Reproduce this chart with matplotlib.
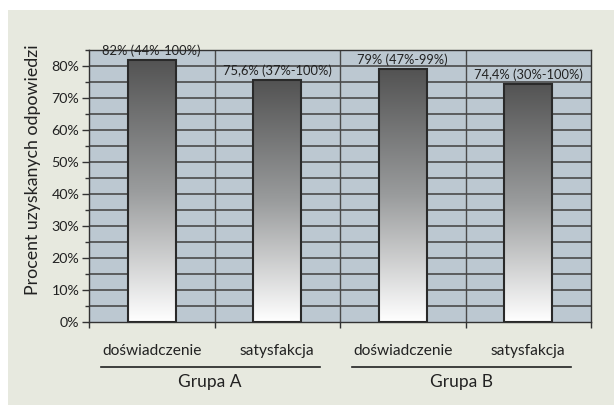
import numpy as np
import matplotlib
matplotlib.use("Agg")
import matplotlib.pyplot as plt
from matplotlib.lines import Line2D
from matplotlib.transforms import blended_transform_factory

plt.rcParams['font.family'] = ['Lato', 'DejaVu Sans']

# data
categories = ["doświadczenie", "satysfakcja", "doświadczenie", "satysfakcja"]
values = [82.0, 75.6, 79.0, 74.4]
value_labels = ["82% (44%-100%)", "75,6% (37%-100%)", "79% (47%-99%)", "74,4% (30%-100%)"]
groups = ["Grupa A", "Grupa B"]
y_ticks = [0, 10, 20, 30, 40, 50, 60, 70, 80]

fig = plt.figure(figsize=(6.14, 4.05), dpi=100)
fig.patch.set_facecolor("white")

# beige panel behind the chart
bg = fig.add_axes([8 / 614, 0, 1 - 8 / 614, (405 - 10) / 405], zorder=0)
bg.set_facecolor("#e7e9df")
bg.set_xticks([])
bg.set_yticks([])
for s in bg.spines.values():
    s.set_visible(False)

ax = fig.add_axes([89 / 614, 1 - 322 / 405, (591 - 89) / 614, (322 - 50) / 405], zorder=2)
ax.set_facecolor("#bcc8d1")

x = np.arange(len(values))

# horizontal grid every 5%, vertical separators between categories
for yv in np.arange(5, 86, 5):
    ax.axhline(yv, color="#4a4a4a", lw=1.2, zorder=1)
for xv in np.arange(0.5, len(values) - 0.5, 1):
    ax.axvline(xv, color="#4a4a4a", lw=1.0, zorder=1)

# gradient bars
grad = np.linspace(0, 1, 256).reshape(-1, 1)
cmap = matplotlib.colors.LinearSegmentedColormap.from_list("g", ["#ffffff", "#9a9c9d", "#535353"])
bw = 0.38
bars = ax.bar(x, values, width=bw, facecolor="none", edgecolor="#2a2a2a", lw=1.5, zorder=3)
for b in bars:
    x0, w, h = b.get_x(), b.get_width(), b.get_height()
    im = ax.imshow(grad, extent=[x0, x0 + w, 0, h], origin="lower", aspect="auto",
                   cmap=cmap, zorder=2)
    im.set_clip_path(b)
ax.set_xlim(-0.5, len(values) - 0.5)
ax.set_ylim(0, 85)

for xi, v, lab in zip(x, values, value_labels):
    ax.annotate(lab, (xi, v), xytext=(0, 2), textcoords="offset points",
                ha="center", va="bottom", fontsize=9.3, color="#222222", zorder=4)

ax.set_yticks(y_ticks)
ax.set_yticklabels([f"{t}%" for t in y_ticks], fontsize=10.3, color="#222222")
ax.set_yticks(np.arange(5, 86, 10), minor=True)
ax.tick_params(axis="y", which="major", length=5, width=1.0, color="#333333", pad=2)
ax.tick_params(axis="y", which="minor", length=3, width=1.0, color="#333333")

ax.set_xticks(np.arange(-0.5, len(values), 1))
ax.set_xticklabels([])
ax.tick_params(axis="x", which="major", length=4, width=1.0, color="#333333")
ax.set_xticks(x, minor=True)
ax.set_xticklabels(categories, minor=True, fontsize=11.2, color="#222222")
ax.tick_params(axis="x", which="minor", length=0, pad=16)

for s in ax.spines.values():
    s.set_color("#333333")
    s.set_linewidth(1.0)

ax.set_ylabel("Procent uzyskanych odpowiedzi", fontsize=12.8, color="#222222")
ax.yaxis.set_label_coords(-0.096, 0.56)

# group annotations under the categories
tr = blended_transform_factory(ax.transData, ax.transAxes)
for gi, g in enumerate(groups):
    xa, xb = 2 * gi, 2 * gi + 1
    ax.add_line(Line2D([xa - 0.404, xb + 0.34], [-0.165, -0.165], transform=tr,
                       color="#222222", lw=1.2, clip_on=False))
    ax.text((xa + xb) / 2 - 0.035, -0.22, g, transform=tr, ha="center", va="center",
            fontsize=12.5, color="#222222")

fig.savefig("out.png", dpi=100, facecolor=fig.get_facecolor())
